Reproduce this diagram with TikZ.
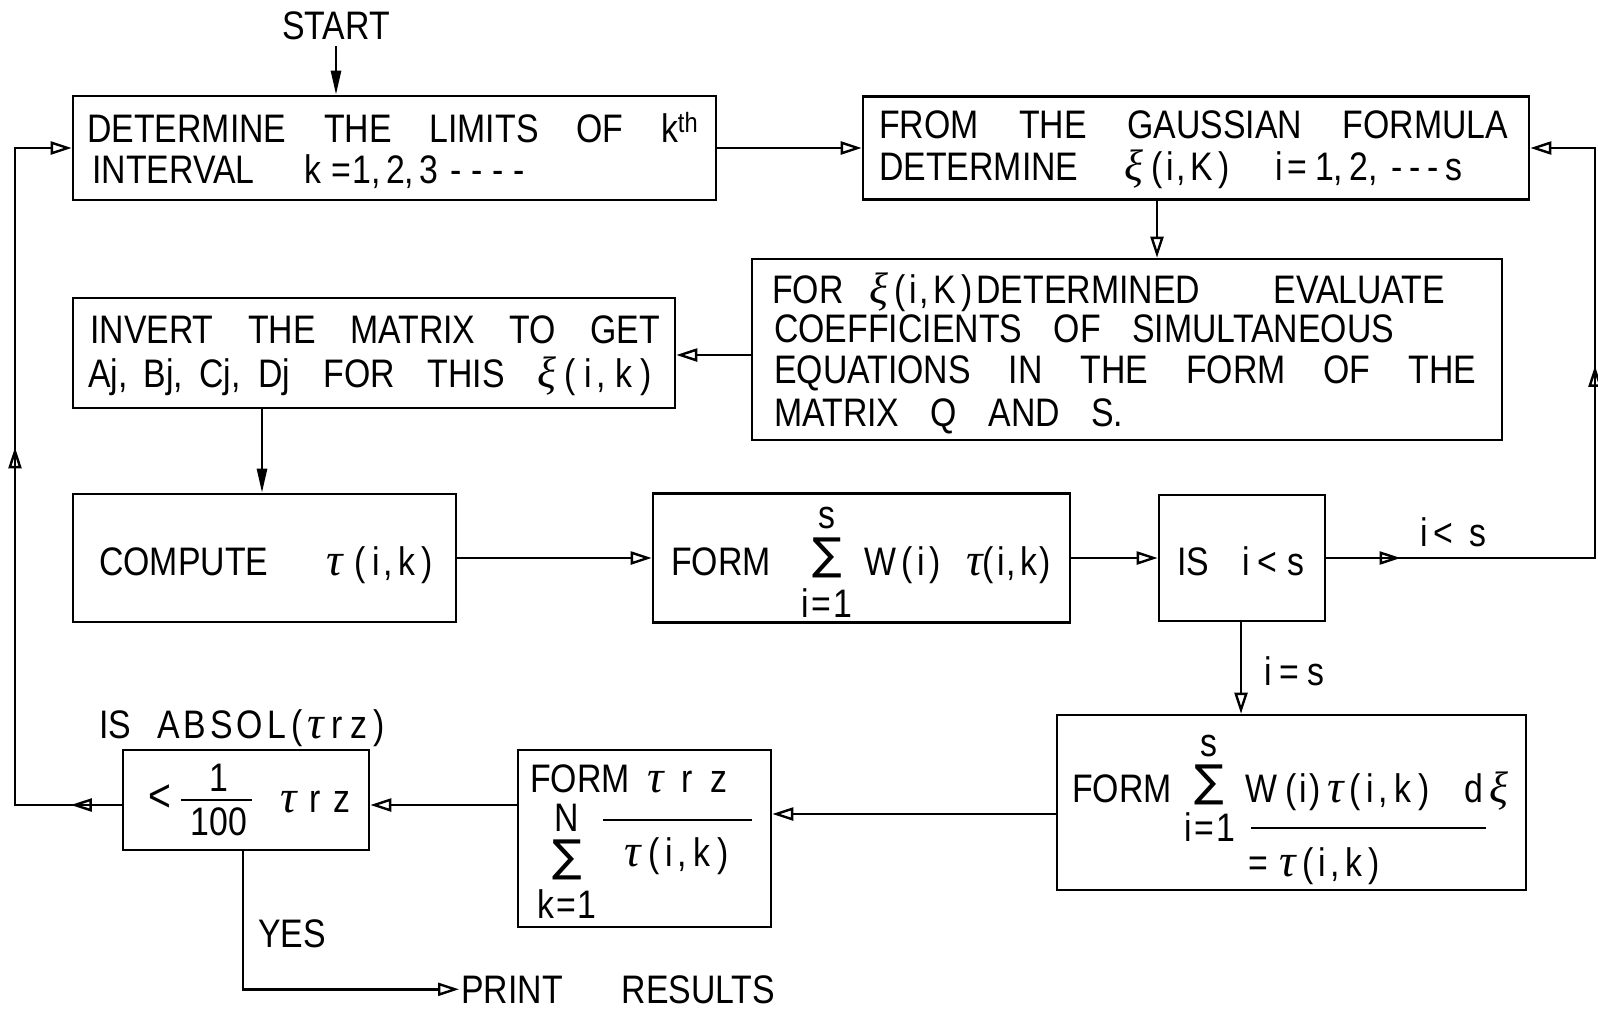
\documentclass[tikz,border=0pt]{standalone}
\usepackage{fontspec}
\newfontfamily\lett[FakeStretch=0.85]{Liberation Sans}
\newfontfamily\symf{DejaVu Sans}
\newfontfamily\grk{Liberation Serif}
\newcommand\tu{{\grk\itshape\fontsize{46pt}{46pt}\selectfont τ}}
\newcommand\xu{{\grk\itshape\fontsize{44pt}{44pt}\selectfont ξ}}
\usetikzlibrary{arrows.meta,decorations.markings,calc}
\newcommand\lsz{\fontsize{39.8pt}{44pt}\selectfont}
\newcommand\wl[2]{\makebox[#1pt][s]{#2}}
\newcommand\ikn{(\kern3pt i\kern2pt,\kern4pt k\kern3pt)}
\newcommand\ikw{(\kern6pt i\kern4pt,\kern7pt k\kern7pt)}
\newcommand\iK{(\kern4pt i\kern2pt,\kern5pt K\kern5pt)}
\begin{document}
\begin{tikzpicture}[x=1pt,y=-1pt,
  boxst/.style={draw, line width=2.6pt, inner sep=0pt, rectangle},
  txt/.style={anchor=base west, inner sep=0pt, font=\lett\lsz},
  ctr/.style={anchor=center, inner sep=0pt, font=\lett\lsz},
  sig/.style={anchor=center, inner sep=0pt, font=\symf\fontsize{44pt}{44pt}\selectfont},
  conn/.style={line width=2.6pt},
  ao/.style={-{Triangle[open,length=21pt,width=13pt,line width=2.4pt]}},
  af/.style={-{Triangle[length=24pt,width=10pt]}},
  midtips/.style n args={2}{postaction=decorate, decoration={markings,
     mark=at position #1 with {\arrow{Triangle[open,length=21pt,width=13pt,line width=2.4pt]}},
     mark=at position #2 with {\arrow{Triangle[open,length=21pt,width=13pt,line width=2.4pt]}}}},
  rulest/.style={line width=2.2pt}
]
\useasboundingbox (0,0) rectangle (1598,1012);

% boxes
\node[boxst,minimum width=643pt,minimum height=104pt] (b1) at (394.5,148) {};
\node[boxst,minimum width=666pt,minimum height=103pt] (b2) at (1196,148) {};
\node[boxst,minimum width=750pt,minimum height=181pt] (b3) at (1127,349.5) {};
\node[boxst,minimum width=602pt,minimum height=110pt] (b4) at (374,353) {};
\node[boxst,minimum width=383pt,minimum height=128pt] (b5) at (264.5,558) {};
\node[boxst,minimum width=417pt,minimum height=129pt] (b6) at (861.5,558) {};
\node[boxst,minimum width=166pt,minimum height=126pt] (b7) at (1242,558) {};
\node[boxst,minimum width=469pt,minimum height=175pt] (b8) at (1291.5,802.5) {};
\node[boxst,minimum width=253pt,minimum height=177pt] (b9) at (644.5,838.5) {};
\node[boxst,minimum width=246pt,minimum height=100pt] (b10) at (246,800) {};

% texts
\node[ctr] (start) at (336,26) {START};
\node[txt] (t1a) at (87,142) {\wl{611}{DETERMINE THE LIMITS OF k\textsuperscript{th}}};
\node[txt] (t1b) at (92,183) {\wl{433}{INTERVAL k\hspace{10pt}=\hspace{2pt}1,\kern5pt2,\kern5pt3\hspace{12pt}-\kern10pt-\kern10pt-\kern10pt-}};
\node[txt] (t2a) at (879,138) {\wl{629}{FROM THE GAUSSIAN FORMULA}};
\node[txt] (t2b) at (879,180) {\wl{583}{DETERMINE \xu\hspace{8pt}\iK{} i\hspace{4pt}=\hspace{8pt}1,\kern6pt2,\hspace{14pt}-\kern7pt-\kern7pt-\kern6pt s}};
\node[txt] (t3a) at (772,303) {\wl{673}{FOR\hspace{26pt}\xu\hspace{6pt}\iK\hspace{4pt}DETERMINED EVALUATE}};
\node[txt] (t3b) at (774,342) {\wl{620}{COEFFICIENTS OF SIMULTANEOUS}};
\node[txt] (t3c) at (774,383) {\wl{702}{EQUATIONS IN THE FORM OF THE}};
\node[txt] (t3d) at (774,426) {\wl{349}{MATRIX Q AND S.}};
\node[txt] (t4a) at (90,343) {\wl{570}{INVERT THE MATRIX TO GET}};
\node[txt] (t4b) at (88,387) {\wl{564}{Aj,\hspace{16pt}Bj,\hspace{16pt}Cj,\hspace{18pt}Dj FOR THIS \xu\hspace{8pt}(\kern8pt i\kern5pt,\kern9pt k\kern9pt)}};
\node[txt] (t5) at (99,575) {\wl{334}{COMPUTE \tu\hspace{12pt}(\kern6pt i\kern4pt,\kern6pt k\kern6pt)}};

\node[txt] (f6) at (671,575) {FORM};
\node[sig] (s6) at (827,558) {∑};
\node[ctr] (s6u) at (827,518) {s};
\node[ctr] (s6l) at (827,603) {i\hspace{2pt}=\hspace{2pt}1};
\node[txt] (w6) at (864,575) {\wl{187}{W\kern5pt(\kern5pt i\kern5pt) \tu\ikn}};

\node[txt] (t7) at (1177,575) {\wl{127}{IS i\hspace{8pt}<\hspace{10pt}s}};
\node[txt] (lt) at (1420,546) {i\hspace{6pt}<\hspace{16pt}s};
\node[txt] (le) at (1264,685) {i\hspace{8pt}=\hspace{8pt}s};

\node[txt] (f8) at (1072,802) {FORM};
\node[sig] (s8) at (1209,785) {∑};
\node[ctr] (s8u) at (1209,746) {s};
\node[ctr] (s8l) at (1210,827) {i\hspace{2pt}=\hspace{2pt}1};
\node[txt] (w8) at (1245,802) {\wl{263}{W\kern8pt(\kern3pt i\kern3pt)\kern6pt\tu\kern6pt\ikw{} d\kern6pt\xu}};
\draw[rulest] (1251,828) -- (1486,828);
\node[txt] (e8) at (1248,876) {=\hspace{12pt}\tu\hspace{6pt}(\kern5pt i\kern4pt,\kern6pt k\kern6pt)};

\node[txt] (f9) at (530,792) {\wl{197}{FORM \tu{} r z}};
\node[ctr] (n9) at (567,818) {N};
\node[sig] (s9) at (567,860) {∑};
\node[ctr] (k9) at (567,904) {k\hspace{2pt}=\hspace{2pt}1};
\draw[rulest] (603,820) -- (752,820);
\node[txt] (d9) at (624,866) {\tu\hspace{8pt}\ikw};

\node[txt] (labs) at (99,738) {IS\hspace{26pt}{\addfontfeature{LetterSpace=10}ABSOL}\hspace{6pt}(\kern4pt\tu\kern8pt r\kern8pt z\kern6pt)};
\node[ctr,font=\lett\fontsize{46pt}{46pt}\selectfont] (lt10) at (160,798) {<};
\node[ctr] (one10) at (219,778) {1};
\draw[rulest] (181,800) -- (252,800);
\node[ctr] (h10) at (219,822) {100};
\node[txt] (trz) at (280,812) {\wl{70}{\tu{} r z}};
\node[txt] (yes) at (258,947) {YES};
\node[txt] (print) at (461,1003) {\wl{314}{PRINT RESULTS}};

% connectors
\coordinate (x23) at (1157,0);
\coordinate (y34) at (0,355);
\coordinate (x45) at (262,0);
\coordinate (rx) at (1595,148);
\coordinate (x78) at (1241,0);
\coordinate (y89) at (0,814);
\coordinate (y910) at (0,805);
\coordinate (lx) at (15,148);
\coordinate (x10) at (243,0);

\draw[conn,af,shorten <=6pt] (start.south) -- (start.south |- b1.north);
\draw[conn,ao] (b1.east) -- (b2.west);
\draw[conn,ao] (x23 |- b2.south) -- (x23 |- b3.north);
\draw[conn,ao] (b3.west |- y34) -- (b4.east |- y34);
\draw[conn,af] (x45 |- b4.south) -- (x45 |- b5.north);
\draw[conn,ao] (b5.east) -- (b6.west);
\draw[conn,ao] (b6.east) -- (b7.west);
\draw[conn,ao,midtips={0.1}{0.62}] (b7.east) -| (rx) |- (b2.east);
\draw[conn,ao] (x78 |- b7.south) -- (x78 |- b8.north);
\draw[conn,ao] (b8.west |- y89) -- (b9.east |- y89);
\draw[conn,ao] (b9.west |- y910) -- (b10.east |- y910);
\draw[conn,ao,midtips={0.062}{0.566}] (b10.west |- y910) -| (lx) |- (b1.west);
\draw[conn,ao] (x10 |- b10.south) |- ($(print.west)+(-2,0)$);
\end{tikzpicture}
\end{document}
